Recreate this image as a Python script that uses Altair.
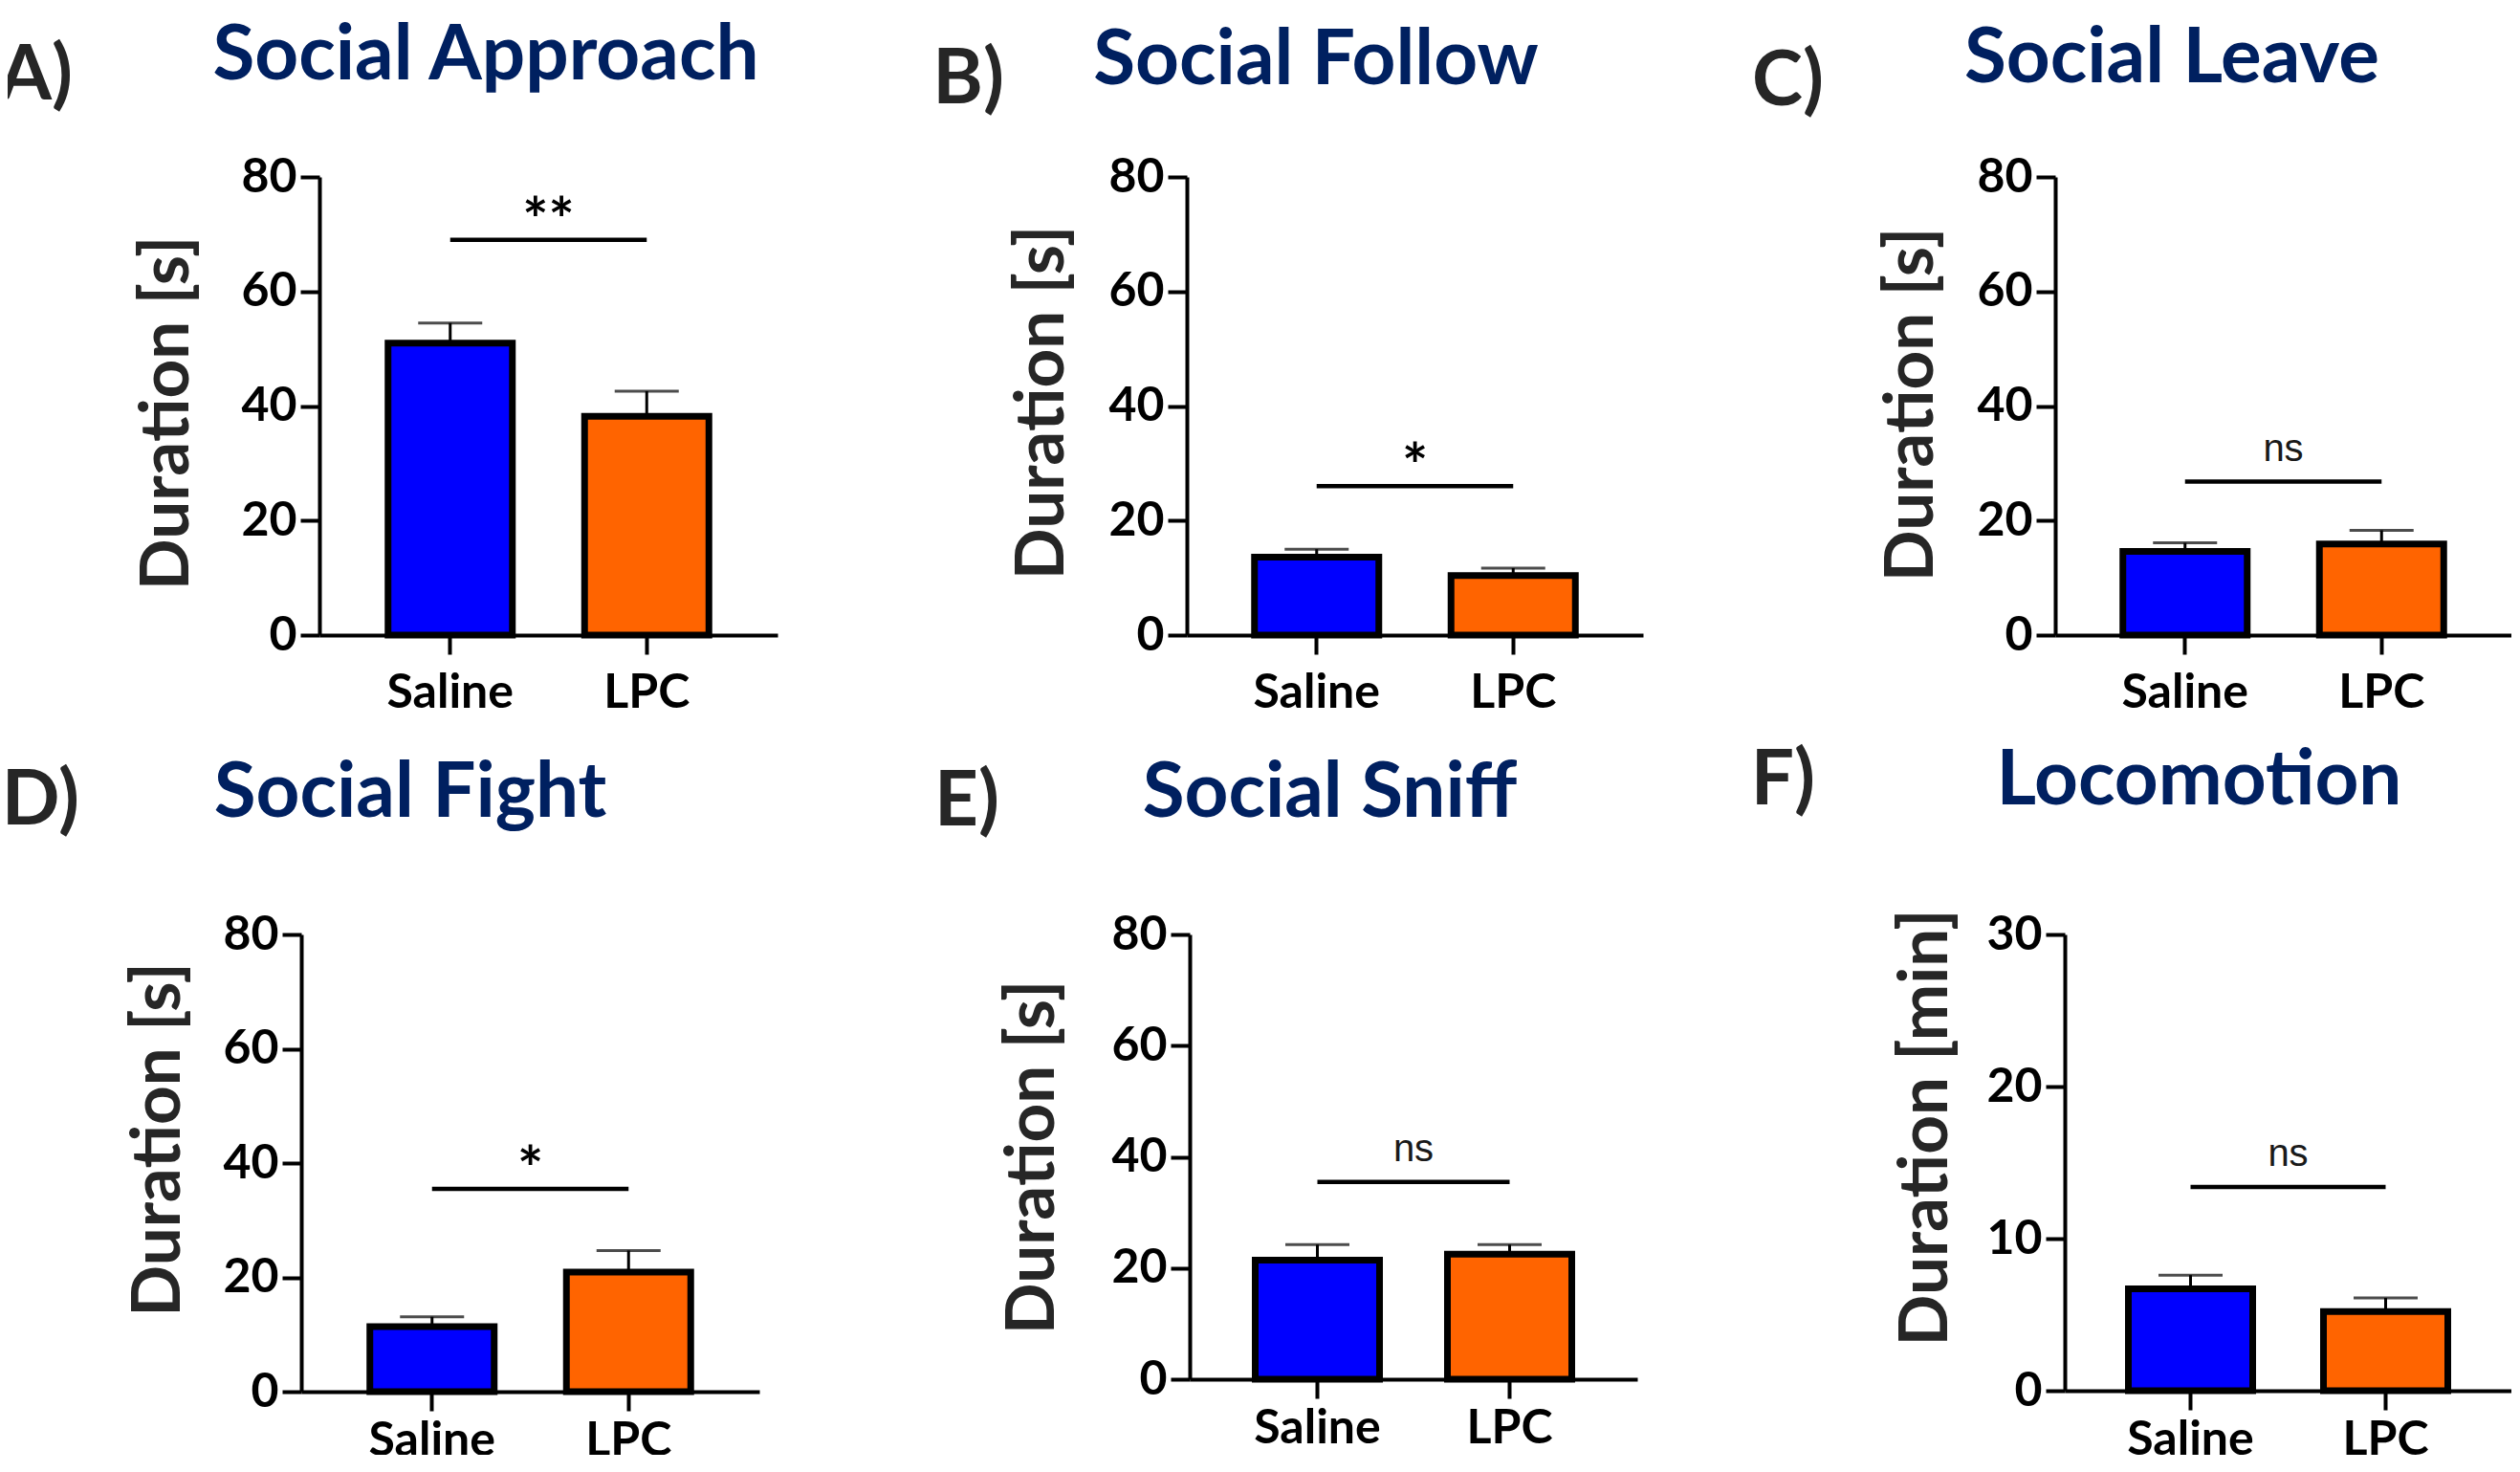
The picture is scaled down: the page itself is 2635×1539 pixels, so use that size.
import altair as alt
import pandas as pd

# ---------------- data ----------------
groups = ["Saline", "LPC"]
panel_titles = ["Social Approach", "Social Follow", "Social Leave",
                "Social Fight", "Social Sniff", "Locomotion"]
panel_letters = ["A)", "B)", "C)", "D)", "E)", "F)"]
y_titles = ["Duration [s]", "Duration [s]", "Duration [s]",
            "Duration [s]", "Duration [s]", "Duration [min]"]
saline_mean = [51.0, 13.6, 14.6, 11.4, 21.4, 6.7]
lpc_mean = [38.2, 10.4, 15.9, 20.9, 22.5, 5.2]
saline_upper = [54.5, 15.0, 16.1, 13.1, 24.2, 7.6]
lpc_upper = [42.6, 11.7, 18.3, 24.7, 24.2, 6.1]
sig_level = [69.0, 26.0, 26.8, 35.5, 35.5, 13.4]
sig_label = ["**", "*", "ns", "*", "ns", "ns"]
y_max = [80, 80, 80, 80, 80, 30]
y_ticks = [[0, 20, 40, 60, 80]] * 5 + [[0, 10, 20, 30]]

# ---------------- layout / style ----------------
FONT = "Lato"
GW = [483, 484, 477, 483, 488, 467]          # cell widths (layout)
R0 = [0, 0, 0, -19, 0, 0]                    # x-range start (y-axis position)
SPAN = [479, 477, 477, 479, 468, 467]        # x-axis length
STEP = [205.5, 205.5, 205.5, 205.5, 201, 204]
H = [479, 479, 479, 478, 465, 477]
P_IN = 0.3
title_cx = [174, 135, 122, 95, 146.5, 140.5]
title_base = [-102, -97, -99, -123, -123, -136]
letter_right = [-258, -191, -242, -251, -199, -261]
letter_base = [-81, -77, -75, -115, -114, -136]
ytitle_x = [-138, -130, -129, -128, -143, -124]
ytitle_dy = [7, -4, -2, -25, 0, -37]
xlabel_pad = [15, 15, 15, 6.5, 6.5, 6.5]
SPACER_X = -380   # leftmost invisible extent, fixes the page offset


def panel(i):
    df = pd.DataFrame({
        "group": groups,
        "mean": [saline_mean[i], lpc_mean[i]],
        "upper": [saline_upper[i], lpc_upper[i]],
    })
    sig = pd.DataFrame({"a": ["Saline"], "b": ["LPC"],
                        "y": [sig_level[i]], "label": [sig_label[i]]})
    s = STEP[i]
    p_out = (SPAN[i] / s - (2 - P_IN)) / 2

    xscale = alt.Scale(domain=groups, paddingInner=P_IN, paddingOuter=p_out,
                       range=[R0[i], R0[i] + SPAN[i]])
    yscale = alt.Scale(domain=[0, y_max[i]], nice=False, zero=True)

    xaxis = alt.Axis(title=None, labelAngle=0, labelFont=FONT, labelFontSize=50,
                     labelFontWeight="bold", labelColor="#000000",
                     labelPadding=xlabel_pad[i],
                     tickSize=20, tickWidth=4, tickColor="#000000",
                     domainWidth=4, domainColor="#000000", grid=False)
    yaxis = alt.Axis(values=y_ticks[i], title=y_titles[i], labelFont=FONT,
                     labelFontSize=50, labelFontWeight="bold", labelColor="#000000",
                     labelPadding=4, tickSize=20, tickWidth=4, tickColor="#000000",
                     domainWidth=4, domainColor="#000000", grid=False,
                     offset=-R0[i],
                     titleFont=FONT, titleFontSize=71, titleFontWeight="bold",
                     titleColor="#262626", titleAngle=270, titleX=ytitle_x[i],
                     titleY=H[i] / 2 + ytitle_dy[i], titleAlign="center",
                     titleBaseline="alphabetic")

    x = alt.X("group:N", scale=xscale, axis=xaxis, sort=groups)
    base = alt.Chart(df)
    bars = base.mark_bar(size=130, stroke="#000000", strokeWidth=7).encode(
        x=x,
        y=alt.Y("mean:Q", scale=yscale, axis=yaxis),
        color=alt.Color("group:N", scale=alt.Scale(domain=groups, range=["#0000FF", "#FF6400"]),
                        legend=None),
    )
    err = base.mark_rule(color="#000000", strokeWidth=3).encode(
        x=alt.X("group:N", scale=xscale, sort=groups),
        y=alt.Y("mean:Q", scale=yscale),
        y2="upper:Q",
    )
    cap = base.mark_tick(color="#000000", size=67, thickness=3).encode(
        x=alt.X("group:N", scale=xscale, sort=groups),
        y=alt.Y("upper:Q", scale=yscale),
    )
    sig_rule = alt.Chart(sig).mark_rule(color="#000000", strokeWidth=4.5).encode(
        x=alt.X("a:N", scale=xscale),
        x2="b:N",
        y=alt.Y("y:Q", scale=yscale),
    )
    if sig_label[i] == "ns":
        sig_mark = alt.Chart(sig).mark_text(font="Liberation Sans", fontSize=40,
                                            color="#1a1a1a", align="center",
                                            baseline="alphabetic", dx=s / 2, dy=-22)
    else:
        sig_mark = alt.Chart(sig).mark_text(font=FONT, fontSize=64, fontWeight="bold",
                                            color="#000000", align="center",
                                            baseline="alphabetic", dx=s / 2, dy=2)
    sig_text = sig_mark.encode(
        x=alt.X("a:N", scale=xscale),
        y=alt.Y("y:Q", scale=yscale),
        text="label:N",
    )
    title = alt.Chart(pd.DataFrame({"t": [panel_titles[i]]})).mark_text(
        font=FONT, fontSize=80, fontWeight="bold", color="#002060",
        align="center", baseline="alphabetic",
    ).encode(text="t:N", x=alt.value(title_cx[i]), y=alt.value(title_base[i]))
    letter = alt.Chart(pd.DataFrame({"t": [panel_letters[i]]})).mark_text(
        font=FONT, fontSize=80, fontWeight="bold", color="#262626",
        align="right", baseline="alphabetic",
    ).encode(text="t:N", x=alt.value(letter_right[i]), y=alt.value(letter_base[i]))

    layers = [bars, err, cap, sig_rule, sig_text, title, letter]
    if i == 0:
        spacer = alt.Chart(pd.DataFrame({"s": [0]})).mark_rule(
            opacity=0, strokeWidth=1).encode(
            x=alt.value(SPACER_X), x2=alt.value(SPACER_X + 10), y=alt.value(0))
        layers.append(spacer)

    return alt.layer(*layers).properties(width=GW[i], height=H[i])


row1 = alt.hconcat(panel(0), panel(1), panel(2), spacing=424, bounds="flush")
row2 = alt.hconcat(panel(3), panel(4), panel(5), spacing=427, bounds="flush")

chart = alt.vconcat(row1, row2, spacing=28).properties(
    padding={"left": -54, "top": 11, "right": 0, "bottom": -11},
    background="white",
).configure_view(stroke=None)

chart.save("out.html", embed_options={"renderer": "svg", "actions": False})
